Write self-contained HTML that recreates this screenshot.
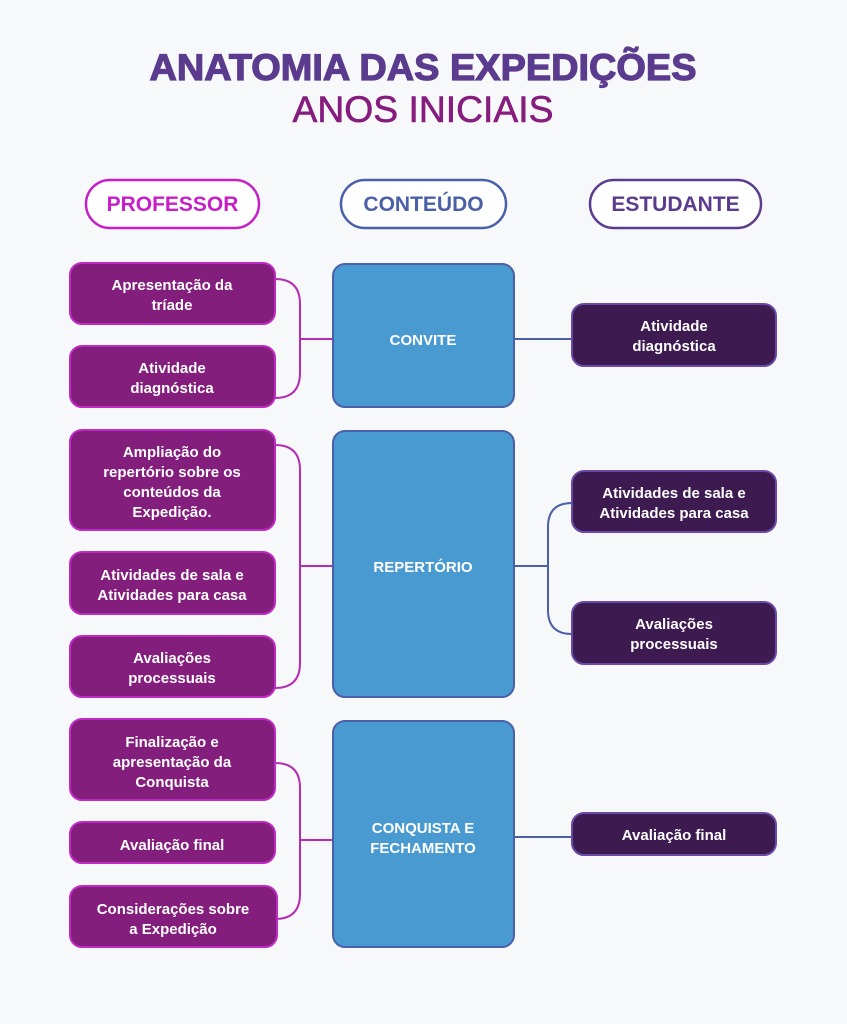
<!DOCTYPE html>
<html><head><meta charset="utf-8"><style>
html,body{margin:0;padding:0;background:#f7f8fa;}
svg{display:block}
text{font-family:"Liberation Sans",sans-serif;}
.t{fill:#fff;font-size:15px;font-weight:bold;text-anchor:middle;}
</style></head><body>
<svg width="847" height="1024" viewBox="0 0 847 1024" xmlns="http://www.w3.org/2000/svg">
<rect width="847" height="1024" fill="#f7f8fa"/>
<text x="423" y="80" text-anchor="middle" font-size="37" font-weight="bold" fill="#5b3b8e" stroke="#5b3b8e" stroke-width="1.2" textLength="547" lengthAdjust="spacingAndGlyphs">ANATOMIA DAS EXPEDIÇÕES</text>
<text x="423" y="122" text-anchor="middle" font-size="37" fill="#861c7d" textLength="261" lengthAdjust="spacingAndGlyphs" stroke="#861c7d" stroke-width="0.6">ANOS INICIAIS</text>

<rect x="86" y="180" width="173" height="48" rx="24" fill="#fff" stroke="#c61fc8" stroke-width="2.5"/>
<text x="172.5" y="211" text-anchor="middle" font-size="21" font-weight="bold" fill="#c61fc8">PROFESSOR</text>
<rect x="341" y="180" width="165" height="48" rx="24" fill="#fff" stroke="#4a60a8" stroke-width="2.5"/>
<text x="423.5" y="211" text-anchor="middle" font-size="21" font-weight="bold" fill="#4a60a8">CONTEÚDO</text>
<rect x="590" y="180" width="171" height="48" rx="24" fill="#fff" stroke="#5b3b8e" stroke-width="2.5"/>
<text x="675.5" y="211" text-anchor="middle" font-size="21" font-weight="bold" fill="#5b3b8e">ESTUDANTE</text>

<g fill="none" stroke="#b42db4" stroke-width="2">
<path d="M275 279 Q300 279 300 304 L300 373 Q300 398 275 398 M300 339 L333 339"/>
<path d="M275 445 Q300 445 300 470 L300 663 Q300 688 275 688 M300 566 L333 566"/>
<path d="M275 763 Q300 763 300 788 L300 894 Q300 919 275 919 M300 840 L333 840"/>
</g>
<g fill="none" stroke="#4a60a8" stroke-width="2">
<path d="M514 339 L572 339"/>
<path d="M572 503 Q548 503 548 527 L548 610 Q548 634 572 634 M514 566 L548 566"/>
<path d="M514 837 L572 837"/>
</g>

<g fill="#841e7c" stroke="#c02ac4" stroke-width="2">
<rect x="70" y="263" width="205" height="61" rx="12"/>
<rect x="70" y="346" width="205" height="61" rx="12"/>
<rect x="70" y="430" width="205" height="100" rx="12"/>
<rect x="70" y="552" width="205" height="62" rx="12"/>
<rect x="70" y="636" width="205" height="61" rx="12"/>
<rect x="70" y="719" width="205" height="81" rx="12"/>
<rect x="70" y="822" width="205" height="41" rx="12"/>
<rect x="70" y="886" width="207" height="61" rx="12"/>
</g>
<g fill="#4a9ad2" stroke="#4a60a8" stroke-width="2">
<rect x="333" y="264" width="181" height="143" rx="12"/>
<rect x="333" y="431" width="181" height="266" rx="12"/>
<rect x="333" y="721" width="181" height="226" rx="12"/>
</g>
<g fill="#3d1a50" stroke="#6a4aa8" stroke-width="2">
<rect x="572" y="304" width="204" height="62" rx="12"/>
<rect x="572" y="471" width="204" height="61" rx="12"/>
<rect x="572" y="602" width="204" height="62" rx="12"/>
<rect x="572" y="813" width="204" height="42" rx="12"/>
</g>

<g class="t">
<text x="172" y="290">Apresentação da</text><text x="172" y="310">tríade</text>
<text x="172" y="373">Atividade</text><text x="172" y="393">diagnóstica</text>
<text x="172" y="457">Ampliação do</text><text x="172" y="477">repertório sobre os</text><text x="172" y="497">conteúdos da</text><text x="172" y="517">Expedição.</text>
<text x="172" y="580">Atividades de sala e</text><text x="172" y="600">Atividades para casa</text>
<text x="172" y="663">Avaliações</text><text x="172" y="683">processuais</text>
<text x="172" y="747">Finalização e</text><text x="172" y="767">apresentação da</text><text x="172" y="787">Conquista</text>
<text x="172" y="850">Avaliação final</text>
<text x="173" y="914">Considerações sobre</text><text x="173" y="934">a Expedição</text>

<text x="423" y="345">CONVITE</text>
<text x="423" y="572">REPERTÓRIO</text>
<text x="423" y="833">CONQUISTA E</text><text x="423" y="853">FECHAMENTO</text>

<text x="674" y="331">Atividade</text><text x="674" y="351">diagnóstica</text>
<text x="674" y="498">Atividades de sala e</text><text x="674" y="518">Atividades para casa</text>
<text x="674" y="629">Avaliações</text><text x="674" y="649">processuais</text>
<text x="674" y="840">Avaliação final</text>
</g>
</svg>
</body></html>
